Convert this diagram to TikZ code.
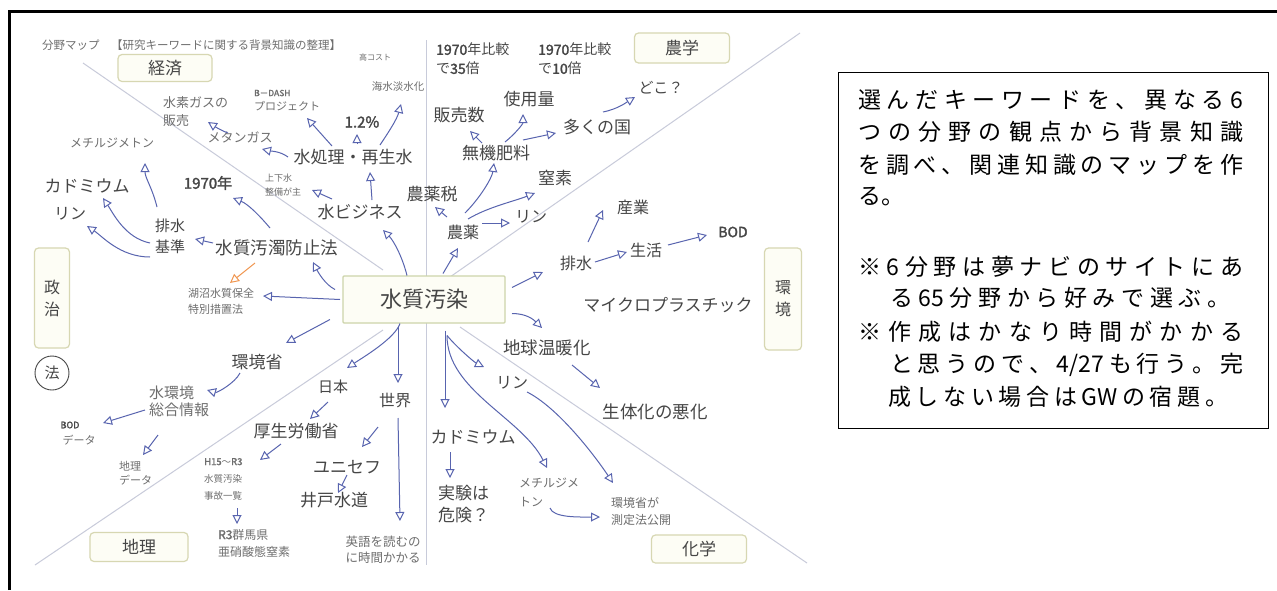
\documentclass[tikz,border=0pt]{standalone}
\usepackage{fontspec}
\newfontfamily\jp{Noto Sans CJK JP}
\newfontfamily\jpb{Noto Sans CJK JP}[FakeBold=2]
\usetikzlibrary{arrows.meta,calc}
\definecolor{arrc}{RGB}{88,100,175}
\definecolor{divc}{RGB}{200,203,218}
\definecolor{catb}{RGB}{215,215,178}
\definecolor{catf}{RGB}{253,253,245}
\definecolor{wqb}{RGB}{205,212,170}
\definecolor{txt}{RGB}{70,70,70}
\definecolor{sub}{RGB}{110,110,110}
\definecolor{orng}{RGB}{240,150,80}
\ExplSyntaxOn
\NewDocumentCommand\spreadto{mm}{\hbox to #1{\tl_map_inline:nn{#2}{##1\hfil}\unskip}}
\ExplSyntaxOff
\begin{document}
\begin{tikzpicture}[x=1pt,y=-1pt,
  lab/.style={inner sep=1pt,text=txt,font=\jp\fontsize{#1}{#1}\selectfont},
  gr/.style={inner sep=1pt,text=sub,font=\jp\fontsize{#1}{#1}\selectfont},
  bld/.style={inner sep=1pt,text=txt,font=\jpb\fontsize{#1}{#1}\selectfont},
  ml/.style 2 args={inner sep=1pt,align=left,text=sub,font=\jp\fontsize{#1}{#2}\selectfont},
  cat/.style={draw=catb,fill=catf,rounded corners=4pt,line width=1.2pt,text=txt,
    font=\jp\fontsize{17}{22}\selectfont,inner sep=0pt,align=center},
  divl/.style={draw=divc,line width=1pt},
  arr/.style={draw=arrc,line width=1pt,-{Triangle[open,length=9pt,width=9pt,line width=1pt]}},
  bx/.style={inner sep=0pt,anchor=west,text=black,font=\jp\fontsize{23}{23}\selectfont}]
\useasboundingbox (0,0) rectangle (1277,590);
\fill[white] (0,0) rectangle (1277,590);
% frame
\draw[line width=3pt] (9.5,590) -- (9.5,11.5) -- (1277,11.5);
% dividers
\draw[divl] (83,63) -- (383,270);
\draw[divl] (800,33) -- (450,277);
\draw[divl] (35,565) -- (383,330);
\draw[divl] (460,327) -- (807,563);
\draw[divl] (426,40) -- (426,565);
% header
\node[anchor=west,inner sep=0pt,text=sub,font=\jp\fontsize{11.5}{11.5}\selectfont] (hdr) at (42,45) {分野マップ　【研究キーワードに関する背景知識の整理】};
% categories
\node[cat,minimum width=94pt,minimum height=27pt] (keizai) at (165,68) {経済};
\node[cat,minimum width=95pt,minimum height=30pt] (nogaku) at (682,48) {農学};
\node[cat,minimum width=35pt,minimum height=100pt,font=\jp\fontsize{16}{22}\selectfont] (seiji) at (52,298) {政\\治};
\node[circle,draw=txt,line width=0.9pt,minimum size=34pt,inner sep=0pt,text=txt,font=\jp\fontsize{15}{15}\selectfont] (ho) at (52,373) {法};
\node[cat,minimum width=37pt,minimum height=102pt,font=\jp\fontsize{16}{22}\selectfont] (kankyo) at (783,299) {環\\境};
\node[cat,minimum width=98pt,minimum height=29pt] (chiri) at (139,547) {地理};
\node[cat,minimum width=95pt,minimum height=28pt] (kagaku) at (699,549) {化学};
% centre
\node[draw=wqb,fill=catf,line width=1.2pt,rounded corners=1pt,minimum width=162pt,minimum height=47pt,text=txt,font=\jp\fontsize{22}{22}\selectfont] (wq) at (424,299.5) {水質汚染};
% top-left
\node[gr=8] (takacost) at (375,57) {高コスト};
\node[gr=10.5] (kaisui) at (398,87) {海水淡水化};
\node[anchor=west,inner sep=1pt,text=sub,font=\jpb\fontsize{8.5}{8.5}\selectfont] (bdasha) at (253,93) {B－DASH};
\node[gr=11,anchor=west] (bdashb) at (253,106) {プロジェクト};
\node[bld=15] (pct) at (362,122) {1.2\%};
\node[lab=17] (shori) at (353,157) {水処理・再生水};
\node[gr=13] (metan) at (240,137) {メタンガス};
\node[ml={13}{18},anchor=west] (suiso) at (162,112) {水素ガスの\\販売};
\node[gr=12] (mechil) at (112,143) {メチルジメトン};
\node[lab=17] (cad1) at (87,186) {カドミウム};
\node[bld=15] (y1970) at (208,183) {1970年};
\node[ml={9}{14},anchor=west] (johge) at (264,185) {上下水\\整備が主};
\node[lab=17] (biz) at (360,212) {水ビジネス};
\node[ml={15}{21},text=txt] (haisui1) at (170,236) {排水\\基準};
\node[lab=16] (rin1) at (70,214) {リン};
\node[lab=17.5] (bousi) at (277,248) {水質汚濁防止法};
\node[ml={11}{16},anchor=west] (kosho) at (187,301) {湖沼水質保全\\特別措置法};
\node[lab=17] (kankyosho) at (257,362) {環境省};
% bottom-left
\node[ml={15}{17},anchor=west] (mizuk) at (148,401) {水環境\\総合情報};
\node[bld=9] (bod1) at (70,425) {BOD};
\node[gr=11] (deta1) at (79,440) {データ};
\node[ml={11}{14},anchor=west] (chiri2) at (118,473) {地理\\データ};
\node[lab=15] (nihon) at (333,387) {日本};
\node[lab=16] (sekai) at (395,400) {世界};
\node[ml={12.5}{16}] (eigo) at (383,550) {英語を読むの\\に時間かかる};
\node[lab=17] (kosei) at (296,431) {厚生労働省};
\node[lab=17] (unicef) at (347,467) {ユニセフ};
\node[lab=17] (ido) at (334,500) {井戸水道};
\node[ml={9.5}{17},anchor=west] (h15) at (203,479) {{\jpb H15}～{\jpb R3}\\水質汚染\\事故一覧};
\node[ml={12}{17},anchor=west] (r3) at (217,543) {{\jpb R3}群馬県\\亜硝酸態窒素};
% top-right
\node[ml={14}{19},anchor=west,text=txt] (c35) at (435,59) {{\jpb 1970}年比較\\で{\jpb 35}倍};
\node[ml={14}{19},anchor=west,text=txt] (c10) at (537,59) {{\jpb 1970}年比較\\で{\jpb 10}倍};
\node[lab=15] (doko) at (661,88) {どこ？};
\node[lab=17] (shiyo) at (529,99) {使用量};
\node[lab=17] (hanbai) at (459,115) {販売数};
\node[lab=17] (ooku) at (597,127) {多くの国};
\node[lab=17] (muki) at (496,153) {無機肥料};
\node[lab=17] (chisso) at (555,178) {窒素};
\node[lab=17] (nouyakuzei) at (432,194) {農薬税};
\node[lab=16] (nouyaku) at (463,232) {農薬};
\node[lab=16] (rin2) at (531,217) {リン};
% right
\node[lab=16] (sangyo) at (633,207) {産業};
\node[lab=16] (haisui2) at (576,263) {排水};
\node[lab=16] (seikatsu) at (646,250) {生活};
\node[bld=14] (bod2) at (733,232) {BOD};
\node[lab=17] (micro) at (668,305) {マイクロプラスチック};
\node[lab=17.5] (ondan) at (547,348) {地球温暖化};
\node[lab=17.5] (seitai) at (655,412) {生体化の悪化};
% bottom-right
\node[lab=16] (rin3) at (512,383) {リン};
\node[lab=17] (cad2) at (473,437) {カドミウム};
\node[ml={17}{22},anchor=west,text=txt] (jikken) at (437,504) {実験は\\危険？};
\node[ml={12}{19},anchor=west] (mechil2) at (518,492) {メチルジメ\\トン};
\node[ml={12}{17},anchor=west] (kankyosho2) at (610,511) {環境省が\\測定法公開};
% arrows top-left
\draw[arr] ($(shori)+(27,-12)$) .. controls +(10,-15) and +(-4,15) .. ($(kaisui)+(3,17)$);
\draw[arr] ($(shori)+(-21,-11)$) -- ($(bdashb.west)+(54,12)$);
\draw[arr] ($(shori)+(4,-13)$) -- ($(pct)+(-5,12)$);
\draw[arr] ($(shori)+(-65,0)$) .. controls +(-8,-6) and +(8,2) .. ($(metan)+(22,12)$);
\draw[arr] ($(metan)+(-12,-4)$) .. controls +(-6,-2) and +(6,4) .. ($(suiso.west)+(46,10)$);
\draw[arr] ($(haisui1)+(-13,-29)$) .. controls +(-5,-20) and +(0,15) .. ($(mechil)+(33,20)$);
\draw[arr] ($(haisui1)+(-20,7)$) .. controls +(-25,-5) and +(10,15) .. ($(cad1)+(16,12)$);
\draw[arr] ($(haisui1)+(-20,21)$) .. controls +(-30,0) and +(15,10) .. ($(rin1)+(17,12)$);
\draw[arr] ($(bousi)+(-7,-20)$) .. controls +(-10,-12) and +(15,6) .. ($(y1970)+(25,15)$);
\draw[arr] ($(biz)+(-28,-13)$) -- ($(johge.west)+(48,5)$);
\draw[arr] ($(biz)+(12,-12)$) -- ($(shori)+(17,15)$);
\draw[arr] ($(wq)+(-17,-24)$) .. controls +(-5,-20) and +(10,10) .. ($(biz)+(23,18)$);
\draw[arr] ($(bousi)+(-64,-5)$) -- ($(haisui1)+(25,3)$);
\draw[arr,draw=orng] ($(bousi)+(-22,15)$) -- ($(kosho.west)+(43,-18)$);
\draw[arr] ($(wq)+(-84,0)$) -- ($(kosho.west)+(76,-5)$);
\draw[arr] ($(wq)+(-89,-10)$) .. controls +(-10,-5) and +(5,10) .. ($(bousi)+(36,14)$);
\draw[arr] ($(wq)+(-94,20)$) -- ($(kankyosho)+(29,-19)$);
% arrows bottom-left
\draw[arr] ($(kankyosho)+(-17,11)$) .. controls +(-5,10) and +(10,3) .. ($(mizuk.west)+(59,-11)$);
\draw[arr] ($(mizuk.west)+(-3,9)$) -- ($(bod1)+(33,-2)$);
\draw[arr] ($(mizuk.west)+(10,34)$) -- ($(chiri2.west)+(25,-18)$);
\draw[arr] ($(wq)+(-24,24)$) .. controls +(-5,15) and +(15,-10) .. ($(nihon)+(14,-19)$);
\draw[arr] ($(wq)+(-26,26)$) -- ($(sekai)+(3,-17)$);
\draw[arr] ($(sekai)+(3,18)$) -- ($(eigo)+(17,-29)$);
\draw[arr] ($(nihon)+(-5,15)$) -- ($(kosei)+(14,-12)$);
\draw[arr] ($(sekai)+(-17,27)$) -- ($(unicef)+(15,-20)$);
\draw[arr] ($(unicef)+(0,8)$) -- ($(ido)+(4,-7)$);
\draw[arr] ($(kosei)+(-15,13)$) -- ($(h15.west)+(57,-19)$);
\draw[arr] ($(h15.west)+(34,29)$) -- ($(r3.west)+(20,-19)$);
% arrows top-right
\draw[arr] ($(wq)+(19,-26)$) -- ($(nouyaku)+(-5,16)$);
\draw[arr] ($(nouyaku)+(-16,-15)$) -- ($(nouyakuzei)+(3,13)$);
\draw[arr] ($(nouyaku)+(19,-9)$) -- ($(rin2)+(-21,6)$);
\draw[arr] ($(nouyaku)+(5,-13)$) .. controls +(20,-12) and +(-20,8) .. ($(chisso)+(-20,15)$);
\draw[arr] ($(nouyaku)+(2,-19)$) .. controls +(15,-15) and +(-2,15) .. ($(muki)+(-2,10)$);
\draw[arr] ($(muki)+(-14,-10)$) -- ($(hanbai)+(11,16)$);
\draw[arr] ($(muki)+(9,-11)$) .. controls +(10,-8) and +(0,10) .. ($(shiyo)+(-6,15)$);
\draw[arr] ($(muki)+(27,-13)$) -- ($(ooku)+(-41,6)$);
\draw[arr] ($(ooku)+(6,-15)$) .. controls +(15,-3) and +(-8,5) .. ($(doko)+(-26,9)$);
% arrows right
\draw[arr] ($(wq)+(88,-12)$) -- ($(haisui2)+(-33,9)$);
\draw[arr] ($(haisui2)+(12,-21)$) -- ($(sangyo)+(-30,3)$);
\draw[arr] ($(haisui2)+(19,-1)$) -- ($(seikatsu)+(-19,2)$);
\draw[arr] ($(seikatsu)+(22,-5)$) -- ($(bod2)+(-26,3)$);
\draw[arr] ($(wq)+(88,14)$) .. controls +(15,0) and +(-8,-8) .. ($(ondan)+(-5,-20)$);
\draw[arr] ($(ondan)+(25,17)$) -- ($(seitai)+(-55,-24)$);
% arrows bottom-right
\draw[arr] ($(wq)+(23,36)$) .. controls +(10,12) and +(-10,-5) .. ($(rin3)+(-28,-16)$);
\draw[arr] ($(rin3)+(15,9)$) .. controls +(30,15) and +(-20,-30) .. ($(kankyosho2.west)+(3,-28)$);
\draw[arr] ($(wq)+(23,36)$) .. controls +(0,55) and +(-25,-50) .. ($(mechil2.west)+(29,-24)$);
\draw[arr] ($(wq)+(21,31)$) -- ($(cad2)+(-28,-29)$);
\draw[arr] ($(cad2)+(-23,15)$) -- ($(jikken.west)+(13,-26)$);
\draw[arr] ($(mechil2.west)+(32,16)$) .. controls +(3,10) and +(-20,0) .. ($(kankyosho2.west)+(-10,6)$);
% note box
\node[draw=black,line width=0.8pt,minimum width=430pt,minimum height=356pt,inner sep=0pt] (note) at (1053,250) {};
\node[bx] (t1) at (858,100) {\spreadto{385pt}{選んだキーワードを、異なる6}};
\node[bx] (t2) at (858,132) {\spreadto{385pt}{つの分野の観点から背景知識}};
\node[bx] (t3) at (858,165) {\spreadto{385pt}{を調べ、関連知識のマップを作}};
\node[bx] (t4) at (858,197) {る。};
\node[bx] (t5) at (858,267) {\spreadto{385pt}{※6分野は夢ナビのサイトにあ}};
\node[bx] (t6) at (890,298) {\spreadto{340pt}{る{65}分野から好みで選ぶ。}};
\node[bx] (t7) at (858,332) {\spreadto{385pt}{※作成はかなり時間がかかる}};
\node[bx] (t8) at (890,365) {\spreadto{353pt}{と思うので、{4/27}も行う。完}};
\node[bx] (t9) at (888,397) {\spreadto{340pt}{成しない場合は{GW}の宿題。}};
\end{tikzpicture}
\end{document}
